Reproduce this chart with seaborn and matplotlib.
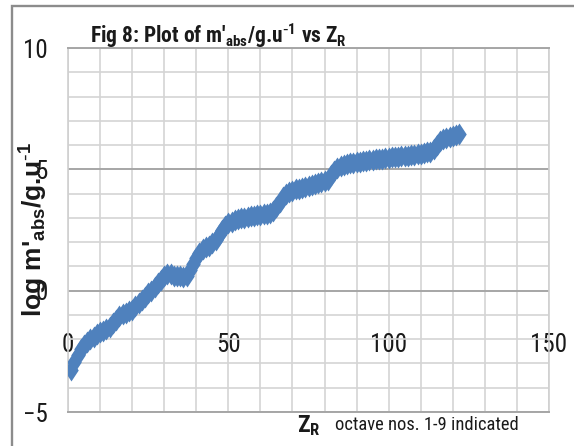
import matplotlib
matplotlib.use("Agg")
import matplotlib.pyplot as plt
from matplotlib import font_manager
from matplotlib.path import Path
from matplotlib.patches import Rectangle
from matplotlib.ticker import MultipleLocator
import seaborn as sns
import pandas as pd

# Atomic rank Z_R and log of absolute mass per unit
z_r = list(range(1, 123))
log_m_abs = [
    -3.25, -2.95, -2.65, -2.40, -2.25, -2.10, -2.00, -1.90, -1.80, -1.72,
    -1.68, -1.60, -1.50, -1.35, -1.20, -1.05, -0.95, -0.90, -0.85, -0.78,
    -0.65, -0.50, -0.40, -0.25, -0.10, 0.00, 0.15, 0.30, 0.45, 0.62,
    0.70, 0.68, 0.62, 0.60, 0.60, 0.58, 0.62, 0.85, 1.10, 1.35,
    1.55, 1.70, 1.78, 1.85, 1.95, 2.10, 2.30, 2.50, 2.65, 2.78,
    2.85, 2.90, 2.95, 2.98, 3.00, 3.03, 3.06, 3.08, 3.10, 3.12,
    3.15, 3.17, 3.20, 3.28, 3.45, 3.65, 3.85, 3.98, 4.08, 4.12,
    4.17, 4.20, 4.25, 4.28, 4.32, 4.36, 4.40, 4.43, 4.47, 4.50,
    4.55, 4.75, 4.95, 5.07, 5.13, 5.18, 5.22, 5.25, 5.28, 5.30,
    5.31, 5.33, 5.35, 5.37, 5.39, 5.41, 5.42, 5.44, 5.46, 5.48,
    5.49, 5.51, 5.52, 5.54, 5.56, 5.57, 5.59, 5.61, 5.63, 5.65,
    5.67, 5.70, 5.73, 5.85, 6.02, 6.18, 6.26, 6.30, 6.35, 6.39,
    6.43, 6.47,
]
x_tick_values = [0, 50, 100, 150]
y_tick_values = [-5, 0, 5, 10]

title_text = (r"Fig 8: Plot of m'$_{\mathregular{abs}}$/g.u$^{\mathregular{\text{-}1}}$"
              r" vs Z$_{\mathregular{R}}$")
y_label_text = r"log m'$_{\mathregular{abs}}$/g.u$^{\mathregular{\text{-}1}}$"
x_label_text = r"Z$_{\mathregular{R}}$"
note_text = "octave nos. 1-9 indicated"

sns.set_theme(style="white")


def pick_narrow_font():
    """Return (family, stretch, size_scale) of the narrowest sans available."""
    entries = font_manager.fontManager.ttflist
    names = {e.name for e in entries}
    for fam in ["Liberation Sans Narrow", "Arial Narrow", "Roboto Condensed",
                "Open Sans Condensed", "Noto Sans Condensed", "DejaVu Sans Condensed"]:
        if fam in names:
            return fam, "normal", 1.0
    condensed = {"condensed", "semi-condensed", "extra-condensed", "ultra-condensed"}
    for fam in ["Noto Sans", "Open Sans", "Roboto", "DejaVu Sans"]:
        for e in entries:
            if e.name == fam and str(e.stretch) in condensed:
                return fam, "condensed", 1.0
    return "DejaVu Sans", "normal", 0.8


narrow, stretch, k = pick_narrow_font()
plt.rcParams["font.family"] = [narrow, "DejaVu Sans"]
plt.rcParams["font.stretch"] = stretch
plt.rcParams["mathtext.default"] = "regular"

W, H, DPI = 574, 446, 100
fig = plt.figure(figsize=(W / DPI, H / DPI), dpi=DPI)
fig.patch.set_facecolor("white")

# plot box in pixel coordinates
left, right, top, bottom = 68, 549, 48, 412
ax = fig.add_axes([left / W, (H - bottom) / H, (right - left) / W, (bottom - top) / H])
ax.set_facecolor("white")

df = pd.DataFrame({"Z_R": z_r, "log_m": log_m_abs})
diamond = Path([(0, 1), (0.66, 0), (0, -1), (-0.66, 0), (0, 1)],
               [Path.MOVETO, Path.LINETO, Path.LINETO, Path.LINETO, Path.CLOSEPOLY])
sns.scatterplot(data=df, x="Z_R", y="log_m", marker=diamond, s=250,
                color="#4F81BD", linewidth=0, ax=ax, zorder=3, legend=False)

ax.set_xlim(0, 150)
ax.set_ylim(-5, 10)
ax.set_xticks(x_tick_values)
ax.set_yticks(y_tick_values)
ax.xaxis.set_minor_locator(MultipleLocator(10))
ax.yaxis.set_minor_locator(MultipleLocator(1))

ax.grid(which="major", axis="y", color="#a6a6a6", linewidth=1.4)
ax.grid(which="minor", axis="y", color="#d4d4d4", linewidth=1.2)
ax.grid(which="both", axis="x", color="#d4d4d4", linewidth=1.2)
ax.set_axisbelow(True)

for side in ["top", "bottom"]:
    ax.spines[side].set_color("#a6a6a6")
    ax.spines[side].set_linewidth(1.4)
for side in ["left", "right"]:
    ax.spines[side].set_color("#cfcfcf")
    ax.spines[side].set_linewidth(1.2)

# x labels sit inside the plot, just under the zero line
ax.tick_params(axis="x", which="both", length=0, pad=-57, labelsize=18 * k, labelcolor="#1a1a1a")
ax.tick_params(axis="y", which="both", length=0, pad=14.4, labelsize=18 * k, labelcolor="#1a1a1a")
ax.set_xlabel("")
ax.set_ylabel("")

# y axis title
fig.text(34 / W, (H - 230) / H, y_label_text, rotation=90, ha="center", va="center",
         fontsize=19, fontweight="bold", family=["Liberation Sans", "DejaVu Sans"],
         fontstretch="normal", color="#1a1a1a")

# chart title
fig.text(90 / W, (H - 43) / H, title_text, ha="left", va="baseline",
         fontsize=15.5 * k, fontweight="bold", color="#1a1a1a")

# x axis title and note
fig.text(297 / W, (H - 432) / H, x_label_text, ha="left", va="baseline",
         fontsize=17 * k, fontweight="bold", color="#1a1a1a")
fig.text(335 / W, (H - 430) / H, note_text, ha="left", va="baseline",
         fontsize=13.3 * k, color="#1a1a1a")

# chart frame
fig.patches.append(Rectangle((12 / W, -0.2), 1.2, (H - 6) / H + 0.2, transform=fig.transFigure,
                             fill=False, edgecolor="#8c8c8c", linewidth=1.7))

fig.savefig("out.png", dpi=DPI)
